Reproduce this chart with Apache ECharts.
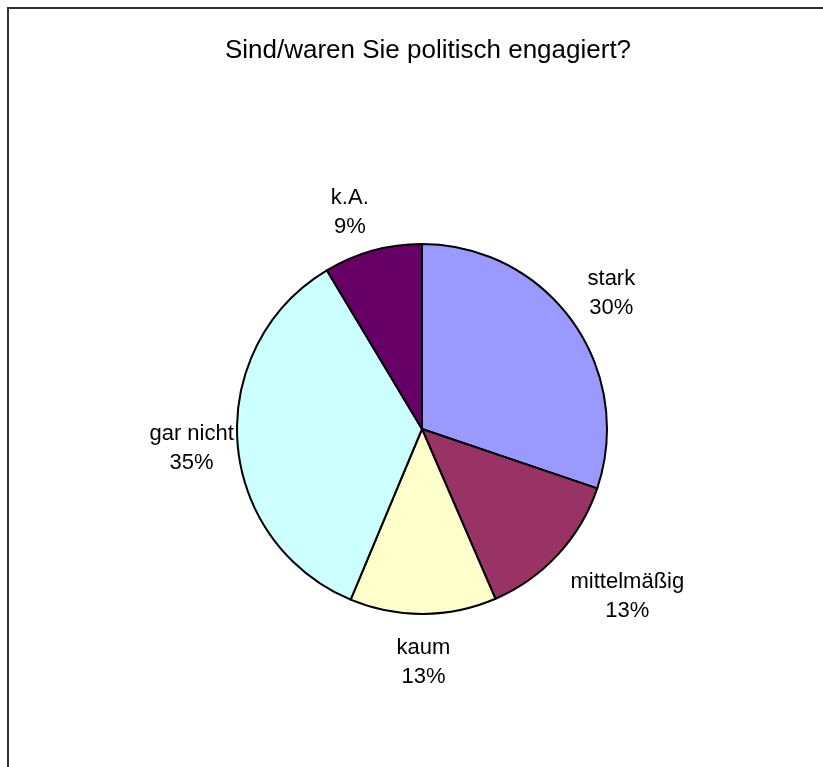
<!DOCTYPE html>
<html>
<head>
<meta charset="utf-8">
<script src="https://cdn.jsdelivr.net/npm/echarts@6/dist/echarts.min.js"></script>
<style>
html,body{margin:0;padding:0;background:#fff;}
#chart{width:823px;height:767px;}
</style>
</head>
<body>
<div id="chart"></div>
<script>
const titleText = 'Sind/waren Sie politisch engagiert?';
const categories = ['stark', 'mittelmäßig', 'kaum', 'gar nicht', 'k.A.'];
const values = [30.2, 13.3, 12.8, 35.1, 8.6];
const colors = ['#9999FF', '#993366', '#FFFFCC', '#CCFFFF', '#660066'];

// label nudges (style only), mimicking the original label placement
const labelOffsets = {
  'mittelmäßig': [34, 10],
  'k.A.': [-10, 8],
  'gar nicht': [2, 3]
};

const font = 'Arial, "Liberation Sans", sans-serif';
const pieData = categories.map((c, i) => ({ name: c, value: values[i], itemStyle: { color: colors[i] } }));
const labelData = categories.map((c, i) => {
  const d = { name: c, value: values[i] };
  if (labelOffsets[c]) d.label = { offset: labelOffsets[c] };
  return d;
});

const chart = echarts.init(document.getElementById('chart'), null, { renderer: 'canvas' });
chart.setOption({
  backgroundColor: '#ffffff',
  animation: false,
  title: {
    text: titleText,
    left: 423,
    textAlign: 'center',
    top: 33,
    textStyle: { fontFamily: font, fontSize: 26, fontWeight: 'normal', color: '#000' }
  },
  graphic: [{
    type: 'rect',
    shape: { x: 8, y: 8, width: 900, height: 900 },
    style: { fill: 'none', stroke: '#333', lineWidth: 2 },
    silent: true
  }],
  series: [
    {
      type: 'pie',
      center: [422, 429],
      radius: [0, 185],
      startAngle: 90,
      clockwise: true,
      silent: true,
      label: { show: false },
      labelLine: { show: false },
      itemStyle: { borderColor: '#000', borderWidth: 2 },
      data: pieData
    },
    {
      type: 'pie',
      center: [422, 429],
      radius: [200, 260],
      startAngle: 90,
      clockwise: true,
      silent: true,
      itemStyle: { color: 'rgba(0,0,0,0)', borderWidth: 0 },
      label: {
        show: true,
        position: 'inside',
        formatter: p => p.name + '\n' + Math.round(p.percent) + '%',
        fontFamily: font,
        fontSize: 22,
        lineHeight: 29,
        color: '#000',
        align: 'center'
      },
      labelLine: { show: false },
      data: labelData
    }
  ]
});
</script>
</body>
</html>
